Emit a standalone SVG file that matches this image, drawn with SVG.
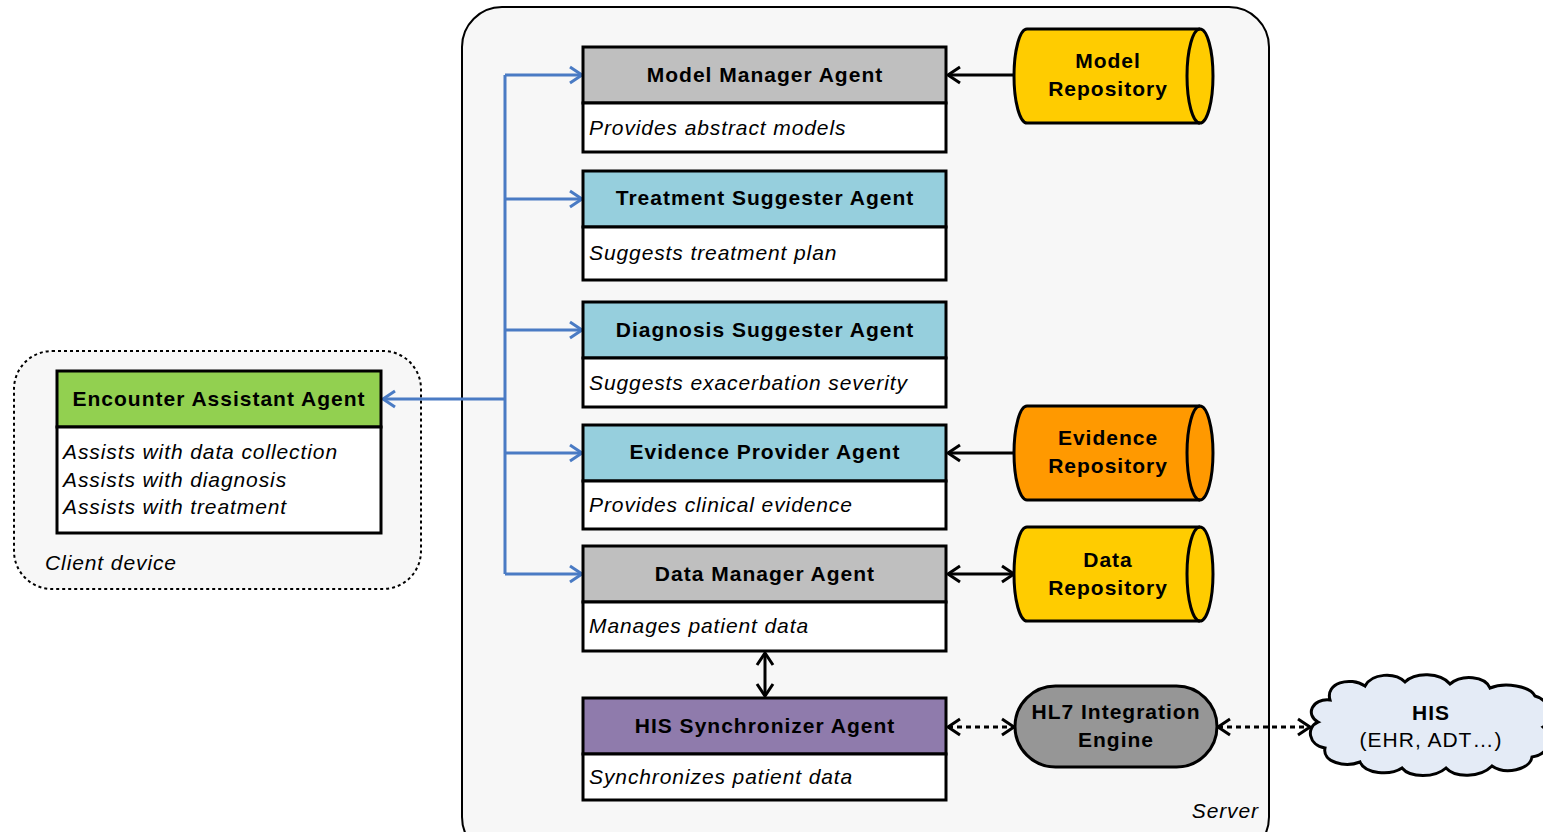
<svg xmlns="http://www.w3.org/2000/svg" width="1543" height="832" viewBox="0 0 1543 832">
<style>
.hdr{font-family:"Liberation Sans",Arial,sans-serif;font-weight:bold;font-size:21px;letter-spacing:1px;fill:#000;text-anchor:middle}
.body{font-family:"Liberation Sans",Arial,sans-serif;font-style:italic;font-size:21px;letter-spacing:0.9px;fill:#000}
.box{stroke:#000;stroke-width:3}
.blue{stroke:#4a7bc4;stroke-width:3;fill:none}
.blk{stroke:#000;stroke-width:3;fill:none}
.dash{stroke:#000;stroke-width:3;fill:none;stroke-dasharray:5,4}
</style>
<defs>
<marker id="ab" markerWidth="20" markerHeight="20" refX="14" refY="10" orient="auto-start-reverse" markerUnits="userSpaceOnUse">
<path d="M2,2 L14,10 L2,18" fill="none" stroke="#4a7bc4" stroke-width="3"/>
</marker>
<marker id="ak" markerWidth="20" markerHeight="20" refX="14" refY="10" orient="auto-start-reverse" markerUnits="userSpaceOnUse">
<path d="M2,2 L14,10 L2,18" fill="none" stroke="#000" stroke-width="3"/>
</marker>
</defs>
<rect width="1543" height="832" fill="#fff"/>
<g id="server">
<rect x="462" y="7" width="807" height="850" rx="40" fill="#f7f7f7" stroke="#000" stroke-width="2"/>
<text x="1259" y="818" class="body" text-anchor="end">Server</text>
</g>
<g id="client">
<rect x="14" y="351" width="407" height="238" rx="38" fill="#f7f7f7" stroke="#000" stroke-width="2" stroke-dasharray="3,3"/>
<text x="45" y="570" class="body">Client device</text>
</g>
<g id="connectors">
<path class="blue" d="M505,75 V574"/>
<path class="blue" d="M505,399 H383" marker-end="url(#ab)"/>
<path class="blue" d="M505,75 H582" marker-end="url(#ab)"/>
<path class="blue" d="M505,199 H582" marker-end="url(#ab)"/>
<path class="blue" d="M505,330 H582" marker-end="url(#ab)"/>
<path class="blue" d="M505,453 H582" marker-end="url(#ab)"/>
<path class="blue" d="M505,574 H582" marker-end="url(#ab)"/>
<path class="blk" d="M1014,75 H948" marker-end="url(#ak)"/>
<path class="blk" d="M1014,453 H948" marker-end="url(#ak)"/>
<path class="blk" d="M948,574 H1014" marker-start="url(#ak)" marker-end="url(#ak)"/>
<path class="blk" d="M765,653 V696" marker-start="url(#ak)" marker-end="url(#ak)"/>
<path class="dash" d="M948,727 H1014" marker-start="url(#ak)" marker-end="url(#ak)"/>
<path class="dash" d="M1218,727 H1310" marker-start="url(#ak)" marker-end="url(#ak)"/>
</g>
<g id="model-manager">
<rect class="box" x="583" y="47" width="363" height="56" fill="#bfbfbf"/>
<rect class="box" x="583" y="103" width="363" height="49" fill="#fff"/>
<text class="hdr" x="765" y="82">Model Manager Agent</text>
<text class="body" x="589" y="135">Provides abstract models</text>
</g>
<g id="treatment">
<rect class="box" x="583" y="171" width="363" height="56" fill="#96cfdd"/>
<rect class="box" x="583" y="227" width="363" height="53" fill="#fff"/>
<text class="hdr" x="765" y="205">Treatment Suggester Agent</text>
<text class="body" x="589" y="260">Suggests treatment plan</text>
</g>
<g id="diagnosis">
<rect class="box" x="583" y="302" width="363" height="56" fill="#96cfdd"/>
<rect class="box" x="583" y="358" width="363" height="49" fill="#fff"/>
<text class="hdr" x="765" y="337">Diagnosis Suggester Agent</text>
<text class="body" x="589" y="390">Suggests exacerbation severity</text>
</g>
<g id="evidence-provider">
<rect class="box" x="583" y="425" width="363" height="56" fill="#96cfdd"/>
<rect class="box" x="583" y="481" width="363" height="48" fill="#fff"/>
<text class="hdr" x="765" y="459">Evidence Provider Agent</text>
<text class="body" x="589" y="512">Provides clinical evidence</text>
</g>
<g id="data-manager">
<rect class="box" x="583" y="546" width="363" height="56" fill="#bfbfbf"/>
<rect class="box" x="583" y="602" width="363" height="49" fill="#fff"/>
<text class="hdr" x="765" y="581">Data Manager Agent</text>
<text class="body" x="589" y="633">Manages patient data</text>
</g>
<g id="his-sync">
<rect class="box" x="583" y="698" width="363" height="56" fill="#8f7bac"/>
<rect class="box" x="583" y="754" width="363" height="46" fill="#fff"/>
<text class="hdr" x="765" y="733">HIS Synchronizer Agent</text>
<text class="body" x="589" y="784">Synchronizes patient data</text>
</g>
<g id="encounter">
<rect class="box" x="57" y="371" width="324" height="56" fill="#92d050"/>
<rect class="box" x="57" y="427" width="324" height="106" fill="#fff"/>
<text class="hdr" x="219" y="406">Encounter Assistant Agent</text>
<text class="body" x="63" y="459">Assists with data collection</text>
<text class="body" x="63" y="487">Assists with diagnosis</text>
<text class="body" x="63" y="514">Assists with treatment</text>
</g>
<g id="model-repo">
<path class="box" d="M1027,29 H1200 A13,47 0 0 1 1200,123 H1027 A13,47 0 0 1 1027,29 Z" fill="#ffcc00"/>
<path class="box" d="M1200,29 A13,47 0 0 0 1200,123" fill="none"/>
<text class="hdr" x="1108" y="68">Model</text>
<text class="hdr" x="1108" y="96">Repository</text>
</g>
<g id="evidence-repo">
<path class="box" d="M1027,406 H1200 A13,47 0 0 1 1200,500 H1027 A13,47 0 0 1 1027,406 Z" fill="#ff9900"/>
<path class="box" d="M1200,406 A13,47 0 0 0 1200,500" fill="none"/>
<text class="hdr" x="1108" y="445">Evidence</text>
<text class="hdr" x="1108" y="473">Repository</text>
</g>
<g id="data-repo">
<path class="box" d="M1027,527 H1200 A13,47 0 0 1 1200,621 H1027 A13,47 0 0 1 1027,527 Z" fill="#ffcc00"/>
<path class="box" d="M1200,527 A13,47 0 0 0 1200,621" fill="none"/>
<text class="hdr" x="1108" y="567">Data</text>
<text class="hdr" x="1108" y="595">Repository</text>
</g>
<g id="hl7">
<rect class="box" x="1015" y="686" width="202" height="81" rx="40.5" fill="#969696"/>
<text class="hdr" x="1116" y="719">HL7 Integration</text>
<text class="hdr" x="1116" y="747">Engine</text>
</g>
<g id="his">
<path class="box" fill="#e4ebf6" d="M1330,700 C1325,683 1350,676 1365,686 C1372,673 1395,672 1405,682 C1415,672 1440,672 1450,684 C1462,674 1485,676 1490,688 C1505,682 1530,686 1535,696 C1550,700 1555,720 1543,727 C1555,738 1548,755 1532,757 C1530,770 1505,775 1492,766 C1480,778 1455,778 1446,768 C1435,778 1410,778 1402,768 C1390,776 1365,774 1360,762 C1345,768 1322,762 1325,748 C1308,745 1306,727 1318,722 C1305,715 1312,698 1330,700 Z"/>
<text class="hdr" x="1431" y="720">HIS</text>
<text class="hdr" x="1431" y="747" style="font-weight:normal">(EHR, ADT…)</text>
</g>
</svg>
